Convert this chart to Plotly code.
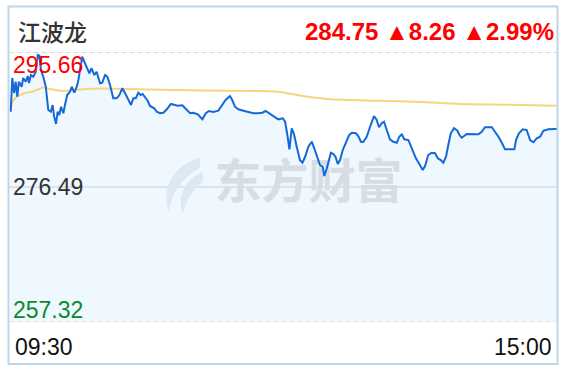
import plotly.graph_objects as go

# ---------------- data ----------------
stock_name = "江波龙"
last_price = "284.75"
change = "▲8.26"
change_pct = "▲2.99%"
prev_close = 276.49
y_high = 295.66
y_low = 257.32
y_labels = ["295.66", "276.49", "257.32"]
time_labels = ["09:30", "15:00"]

# minute index (0 = 09:30, 240 = 15:00) and price
price_min = [0.3, 1.0, 1.8, 2.5, 3.2, 3.9, 5.1, 5.8, 6.9, 7.8, 8.3, 9.2, 10.2, 11.3, 12.2, 12.9,
             13.6, 14.6, 15.7, 16.8, 17.9, 18.7, 19.4, 20.2, 20.9, 21.6, 22.4, 23.4, 24.1, 25.1,
             26.3, 27.1, 28.2, 29.3, 30.0, 31.2, 31.7, 32.6, 33.7, 34.8, 35.8, 37.0, 38.0, 39.5,
             40.5, 41.7, 42.7, 43.9, 45.3, 46.8, 48.0, 49.3, 50.5, 51.9, 53.1, 54.1, 55.2, 56.3,
             57.3, 58.2, 59.2, 60.4, 61.4, 63.3, 64.4, 65.8, 67.3, 68.8, 70.6, 72.4, 73.6, 75.6,
             76.8, 79.0, 80.4, 82.4, 84.4, 85.9, 87.3, 89.2, 91.4, 92.9, 94.6, 96.5, 97.5, 98.7,
             100.2, 102.4, 104.6, 106.8, 108.7, 110.7, 112.2, 114.1, 116.3, 117.7, 119.7, 120.7,
             121.7, 122.6, 123.6, 124.6, 125.8, 127.2, 128.3, 129.4, 130.9, 132.4, 133.5, 134.8,
             136.0, 137.2, 137.9, 139.0, 140.1, 140.8, 141.9, 142.9, 143.8, 144.8, 146.0, 147.4,
             148.8, 149.9, 151.8, 152.8, 154.0, 155.0, 156.5, 158.0, 159.7, 160.9, 161.9, 163.1,
             164.1, 165.3, 166.7, 168.2, 169.7, 170.8, 171.9, 173.0, 174.8, 176.3, 178.1, 179.6,
             181.1, 182.1, 183.5, 185.0, 186.5, 187.7, 189.0, 190.1, 191.3, 192.3, 193.4, 194.8,
             196.3, 197.2, 198.2, 200.4, 202.6, 205.5, 207.0, 208.4, 211.4, 212.8, 214.3, 215.8,
             217.2, 219.4, 221.3, 222.0, 223.3, 225.0, 226.7, 228.2, 229.6, 231.1, 232.6, 234.0,
             236.2, 239.1, 240.0]
price_val = [287.18, 291.97, 289.84, 291.44, 289.31, 291.44, 290.73, 291.97, 291.44, 292.25, 291.26,
             292.39, 292.15, 292.86, 295.23, 295.13, 293.10, 292.15, 290.73, 287.42, 287.18, 288.13,
             286.47, 285.44, 287.18, 286.71, 287.89, 286.96, 288.13, 289.55, 290.02, 290.73, 289.88,
             290.73, 291.68, 294.06, 294.99, 294.28, 293.35, 292.64, 293.35, 292.39, 292.86, 291.22,
             291.30, 292.39, 292.15, 290.97, 289.09, 289.09, 289.55, 290.51, 289.80, 288.84, 288.13,
             289.09, 289.09, 289.88, 289.55, 289.70, 289.31, 288.74, 287.99, 287.67, 287.18, 286.96,
             287.04, 287.52, 288.28, 288.13, 288.03, 288.09, 287.67, 286.96, 287.04, 286.81, 286.10,
             286.96, 287.28, 287.14, 287.33, 287.99, 288.84, 289.41, 288.84, 287.89, 287.52, 287.33,
             287.18, 286.96, 286.96, 287.04, 287.28, 286.86, 286.43, 286.10, 286.25, 285.76, 283.87,
             281.84, 284.83, 284.02, 282.21, 280.32, 279.94, 280.71, 282.21, 282.92, 281.99, 280.57,
             279.61, 279.37, 278.05, 279.15, 280.79, 281.36, 281.18, 280.71, 279.76, 280.32, 281.74,
             282.70, 283.87, 284.20, 284.12, 283.73, 282.92, 282.88, 283.63, 285.05, 286.57, 286.00,
             284.97, 285.54, 285.76, 284.58, 283.26, 282.92, 282.78, 283.63, 283.97, 283.26, 283.16,
             281.99, 280.57, 279.76, 278.90, 279.47, 281.03, 281.36, 281.28, 280.57, 280.32, 279.94,
             280.79, 282.45, 284.12, 284.83, 284.48, 283.87, 283.49, 284.02, 283.97, 283.97, 284.34,
             284.97, 284.97, 284.34, 283.63, 282.78, 281.84, 281.84, 281.84, 283.16, 284.12, 284.68,
             284.58, 283.16, 282.84, 283.41, 283.63, 284.48, 284.68, 284.73, 284.75]

avg_min = [0.2, 1.3, 3.5, 6.6, 10.1, 12.3, 14.5, 16.7, 21.1, 26.3, 32.0, 39.5, 61.4, 83.4,
           109.7, 118.5, 128.6, 140.4, 161.0, 179.9, 197.5, 219.4, 240.0]
avg_val = [287.42, 288.70, 289.41, 289.84, 290.05, 290.34, 290.62, 290.48, 290.19, 290.19,
           290.36, 290.48, 290.34, 290.19, 290.12, 289.98, 289.41, 288.94, 288.74, 288.56,
           288.28, 288.18, 288.03]

watermark = "东方财富"

# ---------------- layout helpers ----------------
W, H = 566, 372
L, R, T, B = 9, 557, 52, 322  # plot area in pixels


def px(x):
    return (x - L) / (R - L)


def py(y):
    return (B - y) / (B - T)


FONT = "Liberation Sans, Arial, sans-serif"
CJK = "Noto Sans CJK SC"

fig = go.Figure()

# filled area under price line
fig.add_trace(go.Scatter(x=price_min, y=price_val, mode="lines", line=dict(width=0),
                         fill="tozeroy", fillcolor="rgba(225,240,255,0.55)",
                         hoverinfo="skip", showlegend=False))

# watermark text (drawn beneath the lines)
fig.add_trace(go.Scatter(x=[131.0], y=[276.6], mode="text", text=[watermark],
                         textfont=dict(family=CJK, size=47, color="#d8dde4", weight="bold"),
                         hoverinfo="skip", showlegend=False))

# average price line
fig.add_trace(go.Scatter(x=avg_min, y=avg_val, mode="lines",
                         line=dict(color="#f6d57e", width=2, shape="spline", smoothing=0.6),
                         hoverinfo="skip", showlegend=False))

# price line
fig.add_trace(go.Scatter(x=price_min, y=price_val, mode="lines",
                         line=dict(color="#1568d8", width=2),
                         hoverinfo="skip", showlegend=False))

shapes = []
# outer border
shapes.append(dict(type="rect", xref="paper", yref="paper",
                   x0=px(8.5), x1=px(557.5), y0=py(364), y1=py(6.5),
                   line=dict(color="#bcd6ea", width=2), layer="above"))
# gridlines
for yv, dash, col in [(y_high, "5px,3px", "#c9c9c9"), (prev_close, "solid", "#c4c4c4"),
                      (y_low, "5px,3px", "#c9c9c9")]:
    shapes.append(dict(type="line", xref="paper", yref="y", x0=px(9.5), x1=px(556.5),
                       y0=yv, y1=yv, line=dict(color=col, width=1.5, dash=dash), layer="below"))

# watermark logo (stylised flame)
def pth(points):
    s = ""
    for cmd, pts in points:
        s += cmd + " " + " ".join(f"{px(a):.5f},{py(b):.5f}" for a, b in pts) + " "
    return s + "Z"

logo1 = pth([("M", [(200, 158)]), ("C", [(177, 163), (160, 185), (169, 212)]),
             ("C", [(171, 195), (181, 178), (200, 168)])])
logo2 = pth([("M", [(203, 172)]), ("C", [(186, 178), (176, 196), (183, 214)]),
             ("C", [(186, 200), (192, 190), (203, 182)])])
for p in (logo1, logo2):
    shapes.append(dict(type="path", xref="paper", yref="paper", path=p,
                       fillcolor="#d8dde4", line=dict(width=0), layer="below"))

ann = []
ann.append(dict(text=stock_name, x=px(16), y=py(31), xanchor="left", yanchor="middle",
                font=dict(family=CJK, size=23, color="#333333", weight=500)))
ann.append(dict(text=f"{last_price} {change} {change_pct}", x=px(556), y=py(31),
                xanchor="right", yanchor="middle",
                font=dict(family=FONT, size=24, color="#ff0000", weight="bold")))
label_cols = ["#ff0000", "#333333", "#0b8a2b"]
label_y = [65, 187.5, 310]
for t, c, yy in zip(y_labels, label_cols, label_y):
    ann.append(dict(text=t, x=px(10.5), y=py(yy), xanchor="left", yanchor="middle",
                    font=dict(family=FONT, size=23, color=c)))
ann.append(dict(text=time_labels[0], x=px(12.5), y=py(346.5), xanchor="left", yanchor="middle",
                font=dict(family=FONT, size=23, color="#111111")))
ann.append(dict(text=time_labels[1], x=px(554), y=py(346.5), xanchor="right", yanchor="middle",
                font=dict(family=FONT, size=23, color="#111111")))
for a in ann:
    a.update(xref="paper", yref="paper", showarrow=False)

fig.update_layout(
    width=W, height=H,
    margin=dict(l=L, r=W - R, t=T, b=H - B, pad=0),
    paper_bgcolor="white", plot_bgcolor="white",
    xaxis=dict(range=[-0.44, 240.0], visible=False, fixedrange=True),
    yaxis=dict(range=[y_low, y_high], visible=False, fixedrange=True),
    shapes=shapes, annotations=ann, showlegend=False,
)

fig.write_html("out.html", config={"displayModeBar": False})
